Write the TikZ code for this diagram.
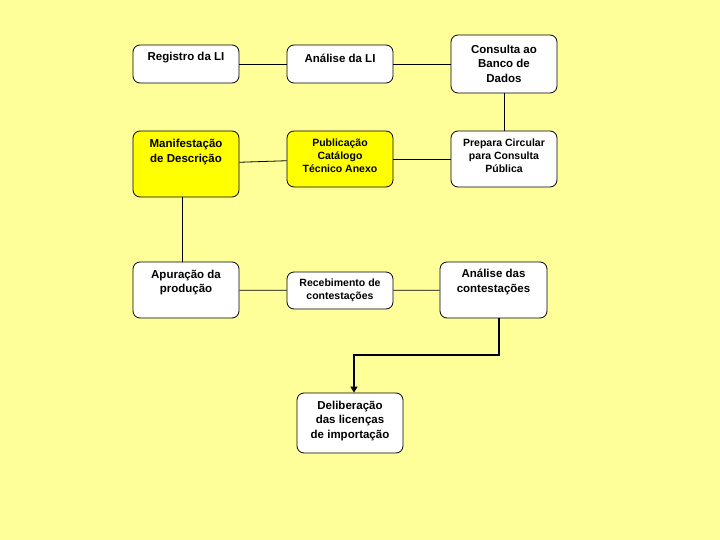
\documentclass[tikz,border=0pt]{standalone}
\usepackage{fontspec}
\setmainfont{Liberation Sans}
\usetikzlibrary{arrows.meta}
\definecolor{paper}{RGB}{255,255,153}
\definecolor{hilite}{RGB}{255,255,0}
\tikzset{
  stepframe/.style={draw=black, line width=0.8pt, rounded corners=7pt, fill=white, minimum width=106pt, inner sep=0pt},
  hiframe/.style={stepframe, fill=hilite},
  steptext/.style={align=center, inner sep=0pt, font=\fontsize{11.5}{14.5}\selectfont\bfseries},
  smalltext/.style={steptext, font=\fontsize{10.5}{13}\selectfont\bfseries},
  link/.style={line width=0.8pt, draw=black},
  flow/.style={line width=2.4pt, draw=black, -{Triangle[length=6pt,width=7pt]}},
}

\begin{document}
\begin{tikzpicture}[x=1pt,y=-1pt]
\fill[paper] (0,0) rectangle (720,540);
\useasboundingbox (0,0) rectangle (720,540);
% frames
\node[stepframe, minimum height=38pt] (reg) at (186,64) {};
\node[stepframe, minimum height=38pt] (ana) at (340,64) {};
\node[stepframe, minimum height=58pt] (cons) at (504,64) {};
\node[hiframe, minimum height=66pt] (manif) at (186,164) {};
\node[hiframe, minimum height=56pt] (publ) at (340,159) {};
\node[stepframe, minimum height=56pt] (prep) at (504,159) {};
\node[stepframe, minimum height=56pt] (apur) at (186,290) {};
\node[stepframe, minimum height=37pt] (receb) at (340,290.5) {};
\node[stepframe, minimum height=56pt, minimum width=107pt] (anc) at (493.5,290) {};
\node[stepframe, minimum height=60pt] (delib) at (350,423) {};
% texts
\node[steptext] (reg-t) at ([yshift=6]reg.center) {Registro da LI};
\node[steptext] (ana-t) at ([yshift=6]ana.center) {Análise da LI};
\node[steptext] (cons-t) at ([yshift=0.5]cons.center) {Consulta ao\\Banco de\\Dados};
\node[steptext] (manif-t) at ([yshift=12]manif.center) {Manifestação\\de Descrição};
\node[smalltext] (publ-t) at ([yshift=3]publ.center) {Publicação\\Catálogo\\Técnico Anexo};
\node[smalltext] (prep-t) at ([yshift=3]prep.center) {Prepara Circular\\para Consulta\\Pública};
\node[steptext] (apur-t) at ([yshift=7.5]apur.center) {Apuração da\\produção};
\node[smalltext] (receb-t) at ([yshift=0]receb.center) {Recebimento de\\contestações};
\node[steptext] (anc-t) at ([yshift=8]anc.center) {Análise das\\contestações};
\node[steptext] (delib-t) at ([yshift=2]delib.center) {Deliberação\\das licenças\\de importação};
% links
\draw[link] (reg) -- (ana);
\draw[link] (ana) -- (cons);
\draw[link] (cons) -- (prep);
\draw[link] (prep) -- (publ);
\draw[link] (publ) -- (manif);
\draw[link] ([xshift=-4]manif.south) -- ([xshift=-4]apur.north);
\draw[link] (apur) -- (receb);
\draw[link] (receb) -- (anc);
\coordinate (turn) at (354,355);
\draw[flow] ([xshift=5.5]anc.south) |- (turn) -- (turn |- delib.north);
\end{tikzpicture}
\end{document}
